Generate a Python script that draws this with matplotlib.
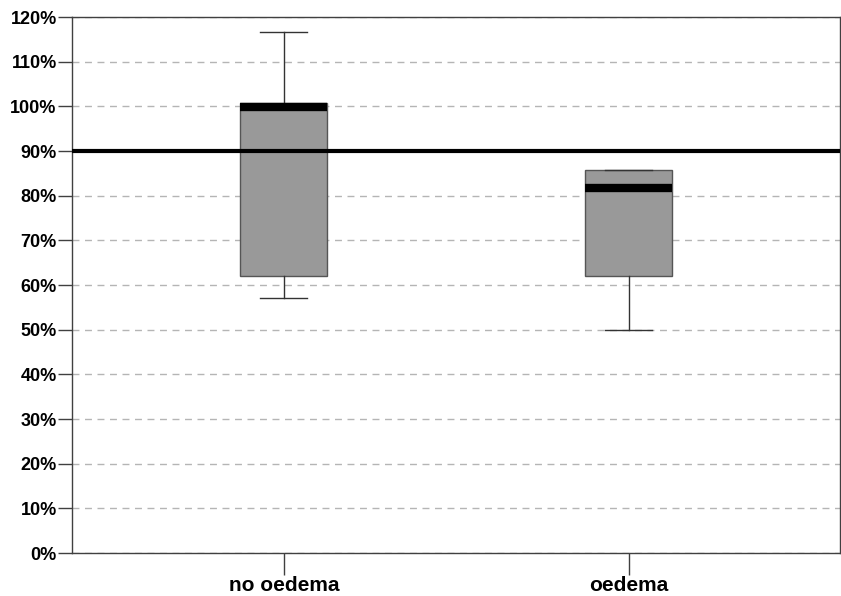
import matplotlib
matplotlib.use("Agg")
import matplotlib.pyplot as plt
from matplotlib.ticker import FuncFormatter

categories = ["no oedema", "oedema"]
whisker_low = [57.1, 49.9]
q1 = [62.0, 62.0]
median = [99.8, 81.7]
q3 = [100.8, 85.7]
whisker_high = [116.6, 85.7]
reference_line = 90
yticks = list(range(0, 121, 10))

plt.rcParams['font.family'] = ['Liberation Sans', 'DejaVu Sans']

fig = plt.figure(figsize=(8.41, 5.96), dpi=100)
ax = fig.add_axes([72/841, 43/596, 768/841, 536/596])

stats = []
for i, c in enumerate(categories):
    stats.append(dict(label=c, whislo=whisker_low[i], q1=q1[i], med=median[i],
                      q3=q3[i], whishi=whisker_high[i], fliers=[]))

positions = [1, 2]
ax.bxp(stats, positions=positions, widths=0.252, patch_artist=True,
       showfliers=False,
       boxprops=dict(facecolor='#999999', edgecolor='#555555', linewidth=1),
       medianprops=dict(color='black', linewidth=6, solid_capstyle='butt'),
       whiskerprops=dict(color='#333333', linewidth=1),
       capprops=dict(color='#333333', linewidth=1),
       capwidths=0.136, zorder=3)

ax.axhline(reference_line, color='black', linewidth=3, zorder=5)

ax.set_ylim(0, 120)
ax.set_xlim(0.386, 2.612)
ax.set_yticks(yticks)
ax.yaxis.set_major_formatter(FuncFormatter(lambda v, p: f"{int(v)}%"))
ax.yaxis.grid(True, linestyle=(0, (5, 4)), color='#b5b5b5', linewidth=1)
ax.set_axisbelow(True)
ax.set_xticks(positions)
ax.set_xticklabels(categories)

for s in ax.spines.values():
    s.set_color('#404040')
    s.set_linewidth(1)

ax.tick_params(axis='y', direction='out', length=10, width=1, color='#404040',
               labelsize=13, pad=1)
ax.tick_params(axis='x', direction='out', length=16, width=1, color='#404040',
               labelsize=15, pad=0.5)
for t in ax.get_yticklabels():
    t.set_fontweight('bold')
for t in ax.get_xticklabels():
    t.set_fontweight('bold')

fig.savefig("out.png", dpi=100)
